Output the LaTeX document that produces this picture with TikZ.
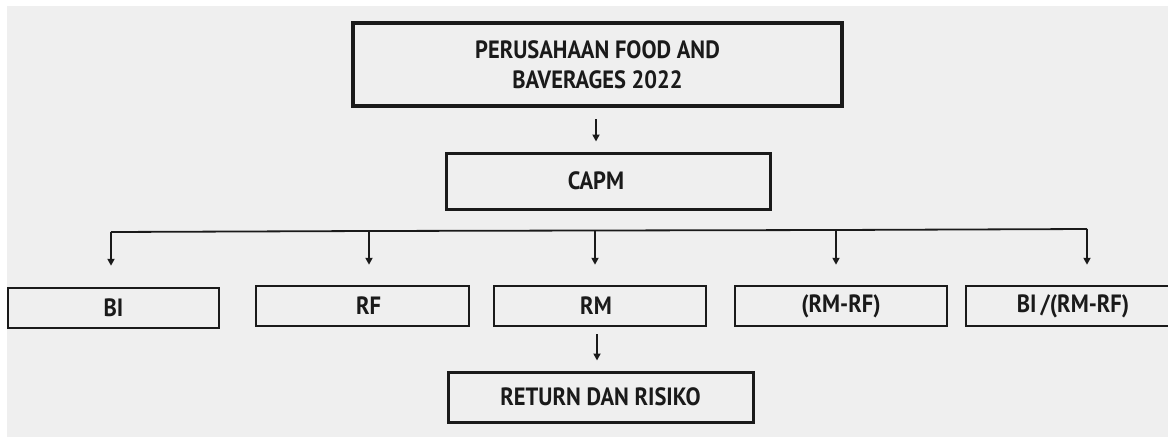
\documentclass[tikz,border=0pt]{standalone}
\usepackage{fontspec}
\setmainfont{PT Sans}[FakeStretch=0.9]
\usetikzlibrary{arrows.meta}
\definecolor{bg}{HTML}{EFEFEF}
\definecolor{ink}{HTML}{1A1A1A}
\tikzset{
  box/.style={draw=ink, fill=bg, inner sep=0pt, font=\bfseries\fontsize{25}{30}\selectfont, text=ink, align=center},
  arr/.style={draw=ink, line width=1.8pt, -{Triangle[length=7pt,width=7pt]}},
  bus/.style={draw=ink, line width=1.8pt}
}
\begin{document}
\begin{tikzpicture}[x=1pt,y=-1pt]
\useasboundingbox (0,0) rectangle (1168,437);
\fill[white] (0,0) rectangle (1168,437);
\fill[bg] (7,6) rectangle (1168,437);
% top
\node[box, line width=4pt, minimum width=489pt, minimum height=83pt] (top) at (597.5,64.5) {PERUSAHAAN FOOD AND\\BAVERAGES 2022};
\node[box, line width=3pt, minimum width=324pt, minimum height=56pt] (capm) at (608,181) {\makebox[0pt]{\hspace*{-24pt}CAPM}};
\draw[arr, shorten <=11pt, shorten >=10pt] (top.south -| 596,0) -- (capm.north -| 596,0);
% level boxes
\node[box, line width=2.5pt, minimum width=211pt, minimum height=40pt] (bi) at (113.5,308) {BI};
\node[box, line width=2.5pt, minimum width=213pt, minimum height=40pt] (rf) at (362.5,306) {\hspace*{12pt}RF};
\node[box, line width=2.5pt, minimum width=212pt, minimum height=40pt] (rm) at (600,306) {\hspace*{-8pt}RM};
\node[box, line width=2.5pt, minimum width=212pt, minimum height=40pt] (rmrf) at (841,306) {(RM-RF)};
\node[box, line width=2.5pt, minimum width=214pt, minimum height=40pt] (birm) at (1073,306) {BI\,/(RM-RF)};
% bus
\coordinate (a1) at (111,232);
\coordinate (a2) at (369,231);
\coordinate (a3) at (595,230.5);
\coordinate (a4) at (836,230);
\coordinate (a5) at (1087,229);
\draw[bus] (a1) -- (a2) -- (a3) -- (a4) -- (a5);
\draw[arr, shorten >=21pt] (a1) -- (a1 |- bi.north);
\draw[arr, shorten >=20pt] (a2) -- (a2 |- rf.north);
\draw[arr, shorten >=20pt] (a3) -- (a3 |- rm.north);
\draw[arr, shorten >=20pt] (a4) -- (a4 |- rmrf.north);
\draw[arr, shorten >=20pt] (a5) -- (a5 |- birm.north);
% bottom
\node[box, line width=3pt, minimum width=305pt, minimum height=50pt] (ret) at (600.5,397) {RETURN DAN RISIKO};
\draw[arr, shorten <=7pt, shorten >=10pt] (rm.south -| 597,0) -- (ret.north -| 597,0);
\end{tikzpicture}
\end{document}
